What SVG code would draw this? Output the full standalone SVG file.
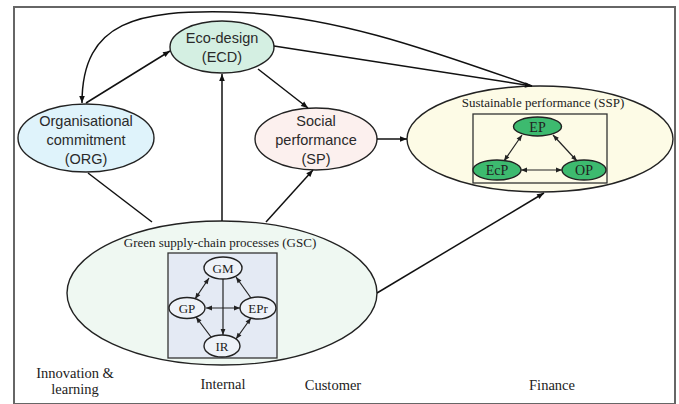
<svg xmlns="http://www.w3.org/2000/svg" width="679" height="404" viewBox="0 0 679 404">
<defs>
<style>
.sans{font-family:"Liberation Sans",Arial,sans-serif;font-size:14.5px;fill:#2a2a2a;text-anchor:middle}
.serif{font-family:"Liberation Serif","Times New Roman",serif;fill:#222;text-anchor:middle}
.node{stroke:#222;stroke-width:1.4}
.ln{fill:none;stroke:#111;stroke-width:1.5}
.il{fill:none;stroke:#222;stroke-width:1.2}
</style>
<marker id="a" viewBox="0 0 10 10" refX="10" refY="5" markerWidth="9" markerHeight="7" orient="auto-start-reverse" markerUnits="userSpaceOnUse"><path d="M0,1 L10,5 L0,9 z" fill="#111"/></marker>
<marker id="s" viewBox="0 0 10 10" refX="10" refY="5" markerWidth="7" markerHeight="6" orient="auto-start-reverse" markerUnits="userSpaceOnUse"><path d="M0,1 L10,5 L0,9 z" fill="#222"/></marker>
</defs>
<rect x="0" y="0" width="679" height="404" fill="#fff"/>
<rect x="14" y="7" width="661" height="397" fill="#fff" stroke="#666" stroke-width="2"/>

<g id="SSP">
<ellipse class="node" cx="540" cy="139" rx="133" ry="53" fill="#fdfbe6"/>
<text class="serif" x="543" y="107" font-size="13">Sustainable performance (SSP)</text>
<rect x="473" y="114" width="134" height="69" fill="#fdfbe6" stroke="#333" stroke-width="1.3"/>
</g>
<g id="EP"><ellipse class="node" cx="537.5" cy="126.5" rx="24" ry="9.5" fill="#3dba6f"/><text class="serif" x="537.5" y="131.5" font-size="14">EP</text></g>
<g id="EcP"><ellipse class="node" cx="497" cy="170" rx="24" ry="10" fill="#3dba6f"/><text class="serif" x="497" y="175" font-size="14">EcP</text></g>
<g id="OP"><ellipse class="node" cx="584" cy="170" rx="22" ry="10" fill="#3dba6f"/><text class="serif" x="584" y="175" font-size="14">OP</text></g>

<g id="GSC">
<ellipse class="node" cx="222" cy="293" rx="155" ry="72" fill="#eff8f2"/>
<text class="serif" x="220" y="247" font-size="13">Green supply-chain processes (GSC)</text>
<rect x="168" y="253" width="109" height="105" fill="#e4eaf4" stroke="#333" stroke-width="1.3"/>
</g>
<g id="GM"><ellipse class="node" cx="223" cy="268" rx="19" ry="11" fill="#eef2f8"/><text class="serif" x="223" y="272.5" font-size="13">GM</text></g>
<g id="GP"><ellipse class="node" cx="187" cy="308" rx="18" ry="10.5" fill="#eef2f8"/><text class="serif" x="187" y="312.5" font-size="13">GP</text></g>
<g id="EPr"><ellipse class="node" cx="258" cy="308" rx="18" ry="11" fill="#eef2f8"/><text class="serif" x="258" y="312.5" font-size="13">EPr</text></g>
<g id="IR"><ellipse class="node" cx="222" cy="346" rx="18" ry="11" fill="#eef2f8"/><text class="serif" x="222" y="350.5" font-size="13">IR</text></g>

<g id="ECD"><ellipse class="node" cx="222" cy="47" rx="52" ry="26" fill="#d4efe2"/><text class="sans" x="222" y="43">Eco-design</text><text class="sans" x="222" y="62">(ECD)</text></g>
<g id="ORG"><ellipse class="node" cx="86" cy="138" rx="68" ry="34" fill="#dff3fb"/><text class="sans" x="86" y="126">Organisational</text><text class="sans" x="86" y="145">commitment</text><text class="sans" x="86" y="164">(ORG)</text></g>
<g id="SP"><ellipse class="node" cx="316" cy="139" rx="61" ry="31" fill="#fcf0ee"/><text class="sans" x="316" y="126">Social</text><text class="sans" x="316" y="145">performance</text><text class="sans" x="316" y="164">(SP)</text></g>

<g id="connectors">
<path class="ln" d="M532,86 C430,50 330,14 230,12 C140,10 82,20 82,103" marker-end="url(#a)"/>
<path class="ln" d="M274,46 L532,86" marker-end="url(#a)"/>
<path class="ln" d="M86,103 L170,51" marker-end="url(#a)"/>
<path class="ln" d="M88,173 L152,222"/>
<path class="ln" d="M222,221 L222,74" marker-end="url(#a)"/>
<path class="ln" d="M266,222 L313,170" marker-end="url(#a)"/>
<path class="ln" d="M258,69 L308,108" marker-end="url(#a)"/>
<path class="ln" d="M377,139 L407,139" marker-end="url(#a)"/>
<path class="ln" d="M377,293 L544,193" marker-end="url(#a)"/>

<path class="il" d="M209,278 L195,299" marker-start="url(#s)" marker-end="url(#s)"/>
<path class="il" d="M223,279 L223,335" marker-end="url(#s)"/>
<path class="il" d="M206,308 L240,308" marker-start="url(#s)" marker-end="url(#s)"/>
<path class="il" d="M211,337 L196,317" marker-end="url(#s)"/>
<path class="il" d="M251,298 L236,277" marker-end="url(#s)"/>
<path class="il" d="M236,339 L251,318" marker-start="url(#s)" marker-end="url(#s)"/>

<path class="il" d="M522,135 L504,161" marker-start="url(#s)" marker-end="url(#s)"/>
<path class="il" d="M553,135 L577,161" marker-start="url(#s)" marker-end="url(#s)"/>
<path class="il" d="M521,170 L562,170" marker-start="url(#s)" marker-end="url(#s)"/>
</g>

<g id="labels">
<text class="serif" x="75" y="378" font-size="14.5">Innovation &amp;</text>
<text class="serif" x="75" y="394" font-size="14.5">learning</text>
<text class="serif" x="223" y="389" font-size="14.5">Internal</text>
<text class="serif" x="333" y="390" font-size="14.5">Customer</text>
<text class="serif" x="552" y="390" font-size="14.5">Finance</text>
</g>
</svg>
